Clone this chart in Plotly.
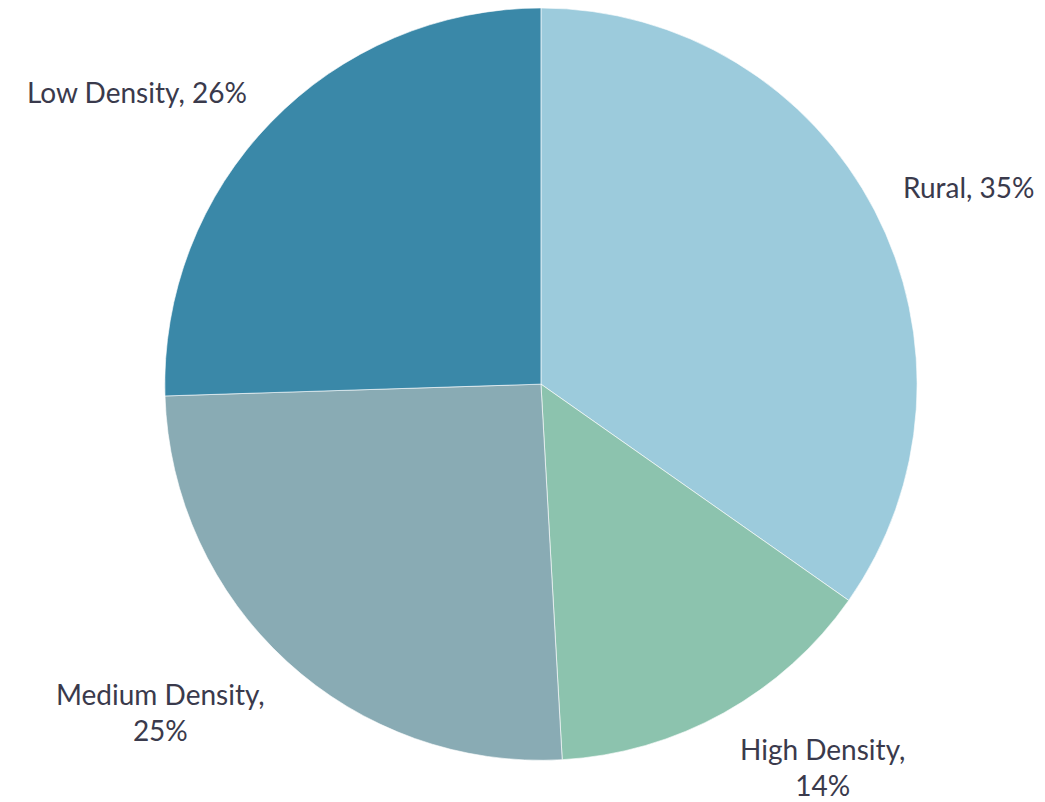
import numpy as np
import plotly.graph_objects as go

categories = ["Rural", "High Density", "Medium Density", "Low Density"]
values = [34.75, 14.35, 25.4, 25.5]
label_text = ["Rural, 35%", "High Density,<br>14%", "Medium Density,<br>25%", "Low Density, 26%"]
colors = ["#9ccbdc", "#8cc3ae", "#89abb4", "#3a88a8"]

W, H = 1045, 802
dom_x = [0.149, 0.871]
dom_y = [0.062, 1.0]

fig = go.Figure(go.Pie(
    labels=categories,
    values=values,
    textinfo="none",
    sort=False,
    direction="clockwise",
    rotation=0,
    marker=dict(colors=colors, line=dict(color="rgba(255,255,255,0.6)", width=1)),
    domain=dict(x=dom_x, y=dom_y),
    showlegend=False,
    hoverinfo="label+percent",
))

# label placement derived from the slice mid-angles (Excel-like outside labels)
cx = (dom_x[0] + dom_x[1]) / 2 * W
cy = (1 - (dom_y[0] + dom_y[1]) / 2) * H
R = min((dom_x[1] - dom_x[0]) * W, (dom_y[1] - dom_y[0]) * H) / 2
gap = 30
vpad = 9
v = np.array(values, dtype=float)
cum = np.cumsum(v) / v.sum()
mids = (cum - v / v.sum() / 2) * 2 * np.pi
for txt, th in zip(label_text, mids):
    sx, cyy = np.sin(th), np.cos(th)
    px = cx + sx * (R + gap)
    py = cy - cyy * (R + gap) + np.sign(cyy) * vpad
    fig.add_annotation(
        x=px / W, y=1 - py / H, xref="paper", yref="paper",
        text=txt, showarrow=False, align="center",
        xanchor="left" if sx > 0 else "right",
        yanchor="bottom" if cyy > 0 else "top",
        font=dict(family="Lato", size=28, color="#3a3a4c"),
    )

fig.update_layout(
    width=W, height=H,
    margin=dict(l=0, r=0, t=0, b=0),
    paper_bgcolor="white",
    plot_bgcolor="white",
)
fig.write_html("out.html")
